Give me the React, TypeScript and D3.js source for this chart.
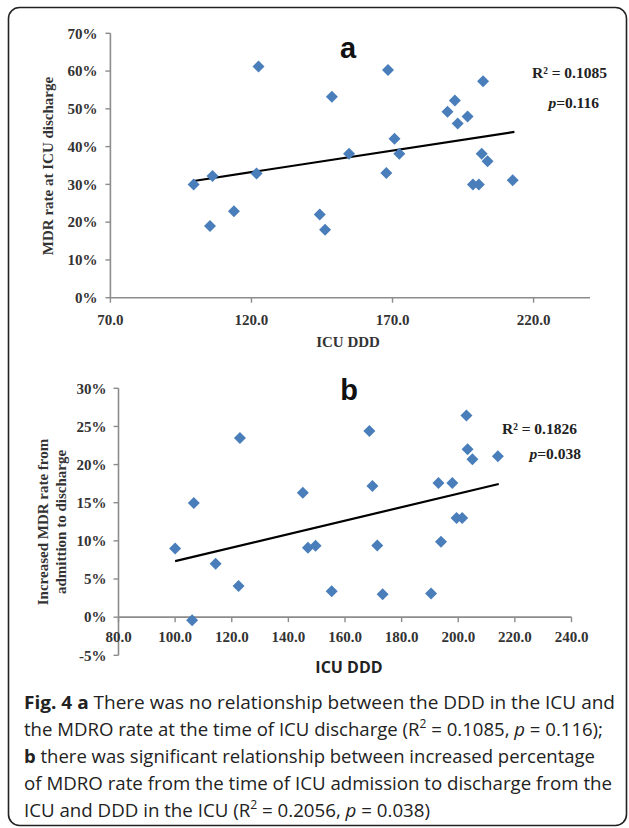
import React from "react";
import * as d3 from "d3";

// ---- Panel a data ----
const aDDD = [99.5, 106.2, 105.3, 113.8, 121.8, 122.5, 144.2, 146.1, 148.5, 154.6, 167.8, 168.4, 170.7, 172.4, 189.5, 192.1, 193.1, 196.6, 198.5, 200.6, 201.6, 202.1, 203.7, 212.6];
const aMDR = [30.0, 32.2, 19.0, 22.9, 32.9, 61.2, 22.0, 18.0, 53.2, 38.1, 33.0, 60.3, 42.1, 38.1, 49.2, 52.2, 46.1, 48.0, 30.0, 30.0, 38.1, 57.3, 36.1, 31.1];
const aTrendX = [99.5, 213.2];
const aTrendY = [30.9, 43.9];
const aXTicks = [70, 120, 170, 220];
const aYTicks = [0, 10, 20, 30, 40, 50, 60, 70];

// ---- Panel b data ----
const bDDD = [100.0, 106.6, 106.0, 114.3, 122.4, 122.9, 145.1, 146.9, 149.6, 155.3, 168.6, 169.7, 171.4, 173.3, 190.4, 193.0, 193.9, 197.9, 199.4, 201.4, 202.9, 203.3, 205.0, 214.0];
const bInc = [9.0, 14.95, -0.4, 7.0, 4.07, 23.5, 16.3, 9.1, 9.36, 3.4, 24.4, 17.2, 9.4, 3.0, 3.1, 17.6, 9.9, 17.6, 13.0, 13.0, 26.45, 22.0, 20.7, 21.1];
const bTrendX = [100.0, 214.3];
const bTrendY = [7.35, 17.45];
const bXTicks = [80, 100, 120, 140, 160, 180, 200, 220, 240];
const bYTicks = [-5, 0, 5, 10, 15, 20, 25, 30];

const BLUE = "#4a7ebb";
const AXIS = "#8c8c8c";
const SERIF = "'Liberation Serif', 'Times New Roman', serif";
const SANS = "'Open Sans', 'Noto Sans', sans-serif";
const ARIAL = "'Liberation Sans', Arial, sans-serif";

const diamond = {
  draw(ctx: any, size: number) {
    const r = Math.sqrt(size / 2);
    ctx.moveTo(0, -r);
    ctx.lineTo(r, 0);
    ctx.lineTo(0, r);
    ctx.lineTo(-r, 0);
    ctx.closePath();
  },
};
const diamondPath = d3.symbol().type(diamond as any).size(72)() as string;

export default function App() {
  // Panel a scales
  const ax = d3.scaleLinear().domain([70, 240]).range([110.4, 590]);
  const ay = d3.scaleLinear().domain([0, 70]).range([297.7, 33.3]);
  // Panel b scales
  const bx = d3.scaleLinear().domain([80, 240]).range([118.5, 571.5]);
  const by = d3.scaleLinear().domain([-5, 30]).range([655.3, 388.3]);

  const line = (sx: any, sy: any, xs: number[], ys: number[]) =>
    d3.line<number>().x((_, i) => sx(xs[i])).y((_, i) => sy(ys[i]))(xs) as string;

  return (
    <svg width={629} height={828} style={{ position: "absolute", left: 0, top: 0, background: "#fff" }}>
      <rect x={0} y={0} width={629} height={828} fill="#fff" />
      <rect x={8.5} y={7.5} width={618} height={818} rx={11} fill="none" stroke="#222" strokeWidth={1.6} />

      {/* ===== Panel a ===== */}
      <g>
        <line x1={ax(70)} x2={ax(70)} y1={ay(70)} y2={ay(0)} stroke={AXIS} strokeWidth={1.6} />
        <line x1={ax(70)} x2={ax(240)} y1={ay(0)} y2={ay(0)} stroke={AXIS} strokeWidth={1.6} />
        {aYTicks.map((t) => (
          <g key={"ay" + t}>
            <line x1={ax(70) - 5} x2={ax(70)} y1={ay(t)} y2={ay(t)} stroke={AXIS} strokeWidth={1.4} />
            <text x={ax(70) - 13} y={ay(t)} dy="0.35em" textAnchor="end" fontFamily={SERIF} fontWeight="bold" fontSize={15} fill="#333">
              {t + "%"}
            </text>
          </g>
        ))}
        {aXTicks.map((t) => (
          <g key={"ax" + t}>
            <line x1={ax(t)} x2={ax(t)} y1={ay(0)} y2={ay(0) + 5} stroke={AXIS} strokeWidth={1.4} />
            <text x={ax(t)} y={ay(0) + 22} dy="0.35em" textAnchor="middle" fontFamily={SERIF} fontWeight="bold" fontSize={15} fill="#333">
              {t.toFixed(1)}
            </text>
          </g>
        ))}
        <text x={348} y={342} dy="0.35em" textAnchor="middle" fontFamily={SERIF} fontWeight="bold" fontSize={15} fill="#333">ICU DDD</text>
        <text transform="translate(48,166) rotate(-90)" dy="0.35em" textAnchor="middle" fontFamily={SERIF} fontWeight="bold" fontSize={15} fill="#333">
          MDR rate at ICU discharge
        </text>
        <text x={348} y={58} textAnchor="middle" fontFamily={ARIAL} fontWeight="bold" fontSize={29} fill="#111">a</text>
        <path d={line(ax, ay, aTrendX, aTrendY)} stroke="#000" strokeWidth={2.2} fill="none" />
        {aDDD.map((d, i) => (
          <path key={"ap" + i} d={diamondPath} transform={`translate(${ax(d)},${ay(aMDR[i])})`} fill={BLUE} />
        ))}
        <text x={607} y={73} dy="0.35em" textAnchor="end" fontFamily={SERIF} fontWeight="bold" fontSize={15.5} fill="#222">R² = 0.1085</text>
        <text x={599} y={103} dy="0.35em" textAnchor="end" fontFamily={SERIF} fontWeight="bold" fontSize={15.5} fill="#222">
          <tspan fontStyle="italic">p</tspan>=0.116
        </text>
      </g>

      {/* ===== Panel b ===== */}
      <g>
        <line x1={bx(80)} x2={bx(80)} y1={by(30)} y2={by(-5)} stroke={AXIS} strokeWidth={1.6} />
        <line x1={bx(80)} x2={bx(240)} y1={by(0)} y2={by(0)} stroke={AXIS} strokeWidth={1.6} />
        {bYTicks.map((t) => (
          <g key={"by" + t}>
            <line x1={bx(80) - 5} x2={bx(80)} y1={by(t)} y2={by(t)} stroke={AXIS} strokeWidth={1.4} />
            <text x={bx(80) - 12} y={by(t)} dy="0.35em" textAnchor="end" fontFamily={SERIF} fontWeight="bold" fontSize={15} fill="#333">
              {t + "%"}
            </text>
          </g>
        ))}
        {bXTicks.map((t) => (
          <g key={"bx" + t}>
            <line x1={bx(t)} x2={bx(t)} y1={by(0)} y2={by(0) + 5} stroke={AXIS} strokeWidth={1.4} />
            <text x={bx(t)} y={by(0) + 20} dy="0.35em" textAnchor="middle" fontFamily={SERIF} fontWeight="bold" fontSize={15} fill="#333">
              {t.toFixed(1)}
            </text>
          </g>
        ))}
        <text x={349} y={667} dy="0.35em" textAnchor="middle" fontFamily={SANS} fontWeight="bold" fontSize={16} fill="#222">ICU DDD</text>
        <text transform="translate(43,522) rotate(-90)" dy="0.35em" textAnchor="middle" fontFamily={SERIF} fontWeight="bold" fontSize={15} fill="#333">
          Increased MDR rate from
        </text>
        <text transform="translate(61,522) rotate(-90)" dy="0.35em" textAnchor="middle" fontFamily={SERIF} fontWeight="bold" fontSize={15} fill="#333">
          admittion to discharge
        </text>
        <text x={349} y={400} textAnchor="middle" fontFamily={ARIAL} fontWeight="bold" fontSize={29} fill="#111">b</text>
        <path d={line(bx, by, bTrendX, bTrendY)} stroke="#000" strokeWidth={2.2} fill="none" />
        {bDDD.map((d, i) => (
          <path key={"bp" + i} d={diamondPath} transform={`translate(${bx(d)},${by(bInc[i])})`} fill={BLUE} />
        ))}
        <text x={577} y={429} dy="0.35em" textAnchor="end" fontFamily={SERIF} fontWeight="bold" fontSize={15.5} fill="#222">R² = 0.1826</text>
        <text x={581} y={454} dy="0.35em" textAnchor="end" fontFamily={SERIF} fontWeight="bold" fontSize={15.5} fill="#222">
          <tspan fontStyle="italic">p</tspan>=0.038
        </text>
      </g>

      {/* ===== Caption ===== */}
      <g fontFamily={SANS} fontSize={18.5} fill="#222">
        <text x={24} y={709} textLength={591} lengthAdjust="spacingAndGlyphs">
          <tspan fontWeight="bold">Fig. 4 a</tspan> There was no relationship between the DDD in the ICU and
        </text>
        <text x={24} y={736} textLength={579} lengthAdjust="spacingAndGlyphs">
          the MDRO rate at the time of ICU discharge (R<tspan dy={-8} fontSize={12}>2</tspan><tspan dy={8}> = 0.1085, </tspan><tspan fontStyle="italic">p</tspan> = 0.116);
        </text>
        <text x={24} y={763} textLength={571} lengthAdjust="spacingAndGlyphs">
          <tspan fontWeight="bold">b</tspan> there was significant relationship between increased percentage
        </text>
        <text x={24} y={790} textLength={588} lengthAdjust="spacingAndGlyphs">
          of MDRO rate from the time of ICU admission to discharge from the
        </text>
        <text x={24} y={817} textLength={406} lengthAdjust="spacingAndGlyphs">
          ICU and DDD in the ICU (R<tspan dy={-8} fontSize={12}>2</tspan><tspan dy={8}> = 0.2056, </tspan><tspan fontStyle="italic">p</tspan> = 0.038)
        </text>
      </g>
    </svg>
  );
}
